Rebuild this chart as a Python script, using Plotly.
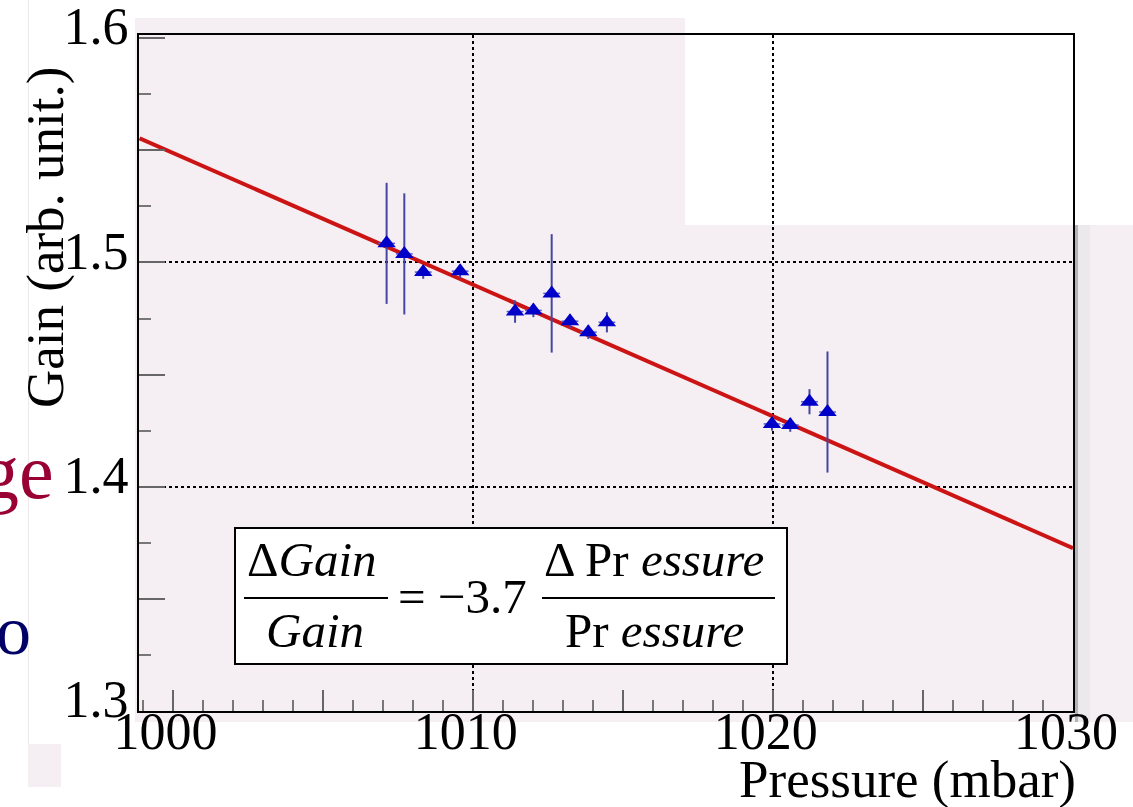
import plotly.graph_objects as go

# Measured gain versus atmospheric pressure
pressure = [1007.13, 1007.72, 1008.35, 1009.58, 1011.41, 1012.02, 1012.63,
            1013.24, 1013.85, 1014.47, 1019.97, 1020.58, 1021.22, 1021.82]
gain = [1.5085, 1.5038, 1.4957, 1.4961, 1.4781, 1.4786, 1.4862,
        1.4738, 1.4689, 1.4733, 1.4280, 1.4275, 1.4379, 1.4333]
gain_err = [0.027, 0.027, 0.003, 0.003, 0.005, 0.003, 0.0264,
            0.003, 0.003, 0.0045, 0.003, 0.003, 0.0056, 0.027]
pressure_err = [0.28] * 14

# Linear fit: gain = fit_intercept + fit_slope * (p - fit_ref)
fit_ref = 1000.0
fit_intercept = 1.5489
fit_slope = -0.005876
fit_range = [998.9, 1030.0]

# Axis ranges, ticks and grid positions
x_range = [998.88, 1030.0]
y_range = [1.3, 1.6014]
x_tick_vals = [1000, 1005, 1010, 1015, 1020, 1025, 1030]
x_tick_text = ["1000", "", "1010", "", "1020", "", "1030"]
y_tick_vals = [1.3, 1.35, 1.4, 1.45, 1.5, 1.55, 1.6]
y_tick_text = ["1.3", "", "1.4", "", "1.5", "", "1.6"]
x_grid = [1010, 1020]
y_grid = [1.4, 1.5]

W_FIG, H_FIG = 1133, 807
L, R, T, B = 139, 1073, 35, 711
SERIF = "Liberation Serif, Times New Roman, serif"


def px(x):
    return (x - L) / (R - L)


def py(y):
    return (B - y) / (B - T)


fit_y = [fit_intercept + fit_slope * (p - fit_ref) for p in fit_range]

fig = go.Figure()

# invisible trace that carries the grid axes
fig.add_trace(go.Scatter(x=[], y=[], xaxis="x2", yaxis="y2",
                         showlegend=False, hoverinfo="skip"))

fig.add_trace(go.Scatter(
    x=fit_range, y=fit_y, mode="lines",
    line=dict(color="#cc1414", width=4),
    showlegend=False,
))

fig.add_trace(go.Scatter(
    x=pressure, y=gain, mode="markers",
    marker=dict(symbol="triangle-up", size=16, color="#0000c8",
                line=dict(width=0)),
    error_y=dict(type="data", array=gain_err, visible=True,
                 color="#4646a0", thickness=2, width=0),
    error_x=dict(type="data", array=pressure_err, visible=True,
                 color="#5a5ad0", thickness=1.5, width=0),
    showlegend=False,
))

axis_font = dict(family=SERIF, size=52, color="black")

fig.update_layout(
    width=W_FIG, height=H_FIG,
    margin=dict(l=L, r=W_FIG - R, t=T, b=H_FIG - B, autoexpand=False),
    paper_bgcolor="white",
    plot_bgcolor="rgba(0,0,0,0)",
    xaxis=dict(
        range=x_range, tickmode="array", tickvals=x_tick_vals, ticktext=x_tick_text,
        ticks="inside", ticklen=21, tickwidth=2, tickcolor="#666666",
        minor=dict(tickmode="linear", tick0=1000, dtick=1, ticks="inside",
                   ticklen=11, tickwidth=2, tickcolor="#777777", showgrid=False),
        showgrid=False, zeroline=False, automargin=False,
        showline=True, linecolor="black", linewidth=2, mirror=True,
        tickfont=axis_font, ticklabelshift=-7, ticklabelstandoff=-26,
        ticklabeloverflow="allow",
    ),
    yaxis=dict(
        range=y_range, tickmode="array", tickvals=y_tick_vals, ticktext=y_tick_text,
        ticks="inside", ticklen=26, tickwidth=2, tickcolor="#666666",
        minor=dict(tickmode="linear", tick0=1.3, dtick=0.025, ticks="inside",
                   ticklen=12, tickwidth=2, tickcolor="#777777", showgrid=False),
        showgrid=False, zeroline=False, automargin=False,
        showline=True, linecolor="black", linewidth=2, mirror=True,
        tickfont=axis_font, ticklabelshift=-12, ticklabelstandoff=-2,
        ticklabeloverflow="allow",
    ),
    xaxis2=dict(
        overlaying="x", range=x_range, tickmode="array", tickvals=x_grid,
        showticklabels=False, ticks="", showgrid=True, gridcolor="black",
        griddash="dot", gridwidth=1.5, zeroline=False, showline=False,
        automargin=False,
    ),
    yaxis2=dict(
        overlaying="y", range=y_range, tickmode="array", tickvals=y_grid,
        showticklabels=False, ticks="", showgrid=True, gridcolor="black",
        griddash="dot", gridwidth=1.5, zeroline=False, showline=False,
        automargin=False,
    ),
)

PINK = "#f5eff3"
shapes = [
    # slide background panels
    dict(type="rect", xref="paper", yref="paper", layer="below",
         x0=px(135), x1=px(685), y0=py(722), y1=py(18),
         fillcolor=PINK, line=dict(width=0)),
    dict(type="rect", xref="paper", yref="paper", layer="below",
         x0=px(685), x1=px(1133), y0=py(722), y1=py(225),
         fillcolor=PINK, line=dict(width=0)),
    dict(type="rect", xref="paper", yref="paper", layer="below",
         x0=px(28), x1=px(61), y0=py(787), y1=py(744),
         fillcolor=PINK, line=dict(width=0)),
    dict(type="line", xref="paper", yref="paper", layer="below",
         x0=px(28.5), x1=px(28.5), y0=py(744), y1=py(0),
         line=dict(color="#eee9ed", width=1)),
    # frame shadow on the right
    dict(type="rect", xref="paper", yref="paper", layer="below",
         x0=px(1075), x1=px(1078), y0=py(722), y1=py(225),
         fillcolor="#b4b4b4", line=dict(width=0)),
    dict(type="rect", xref="paper", yref="paper", layer="below",
         x0=px(1078), x1=px(1090), y0=py(722), y1=py(225),
         fillcolor="#ebe9eb", line=dict(width=0)),
    # equation box
    dict(type="rect", xref="paper", yref="paper", layer="above",
         x0=px(235), x1=px(787), y0=py(664), y1=py(528),
         fillcolor="white", line=dict(color="black", width=2)),
    dict(type="line", xref="paper", yref="paper", layer="above",
         x0=px(244), x1=px(388), y0=py(598), y1=py(598),
         line=dict(color="black", width=2)),
    dict(type="line", xref="paper", yref="paper", layer="above",
         x0=px(542), x1=px(775), y0=py(598), y1=py(598),
         line=dict(color="black", width=2)),
]
fig.update_layout(shapes=shapes)

eq_font = dict(family=SERIF, size=49, color="black")


def note(text, x, y, font, xanchor="center", yanchor="middle", angle=0):
    fig.add_annotation(text=text, xref="paper", yref="paper", x=px(x), y=py(y),
                       xanchor=xanchor, yanchor=yanchor, showarrow=False,
                       font=font, textangle=angle)


note("Δ<i>Gain</i>", 312, 559, eq_font)
note("<i>Gain</i>", 315, 630, eq_font)
note("= −3.7", 462, 596, eq_font)
note("Δ Pr <i>essure</i>", 654, 559, eq_font)
note("Pr <i>essure</i>", 654, 630, eq_font)

title_font = dict(family=SERIF, size=53, color="black")
note("Gain (arb. unit.)", 45, 238, title_font, angle=-90)
note("Pressure (mbar)", 1078, 779, title_font, xanchor="right")

note("ge", 56, 471, dict(family=SERIF, size=78, color="#990033"), xanchor="right")
note("o", 33, 630, dict(family=SERIF, size=70, color="#000066"), xanchor="right")

fig.write_html("out.html")
